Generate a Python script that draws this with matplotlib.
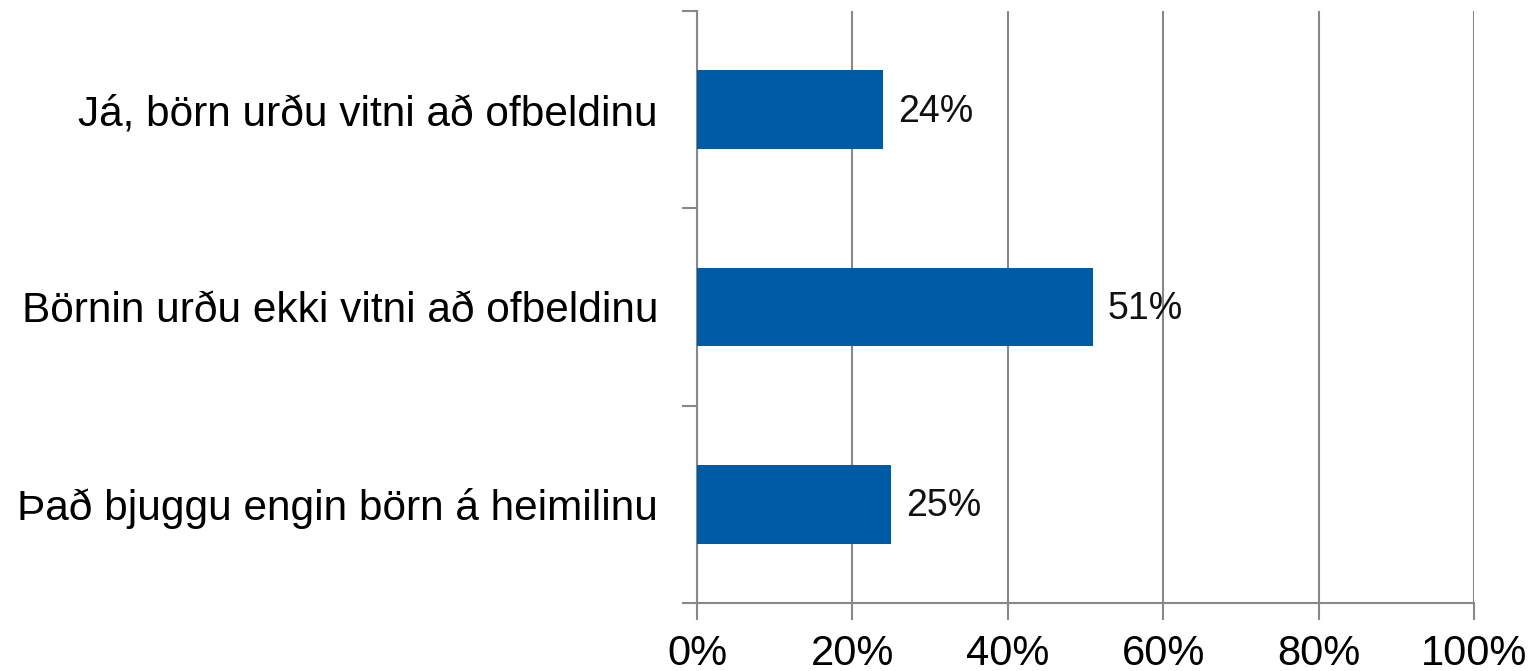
import numpy as np
from matplotlib import pyplot as plt
from matplotlib.ticker import FixedLocator

categories = ["Það bjuggu engin börn á heimilinu",
              "Börnin urðu ekki vitni að ofbeldinu",
              "Já, börn urðu vitni að ofbeldinu"]
values = [25, 51, 24]
x_ticks = [0, 20, 40, 60, 80, 100]

plt.rcParams['font.family'] = ['Liberation Sans', 'DejaVu Sans']

fig = plt.figure(figsize=(15.38, 6.71), dpi=100)
ax = fig.add_axes([697 / 1538, 1 - 603 / 671, 777 / 1538, 592 / 671])

y = np.arange(len(categories))
ax.barh(y, values, height=0.4, color='#005BA5', zorder=3)
for yi, v in zip(y, values):
    ax.text(v + 1.9, yi - 0.01, f"{v}%", va='center', ha='left', fontsize=27, color='#111111')

ax.set_xlim(0, 100)
ax.set_ylim(-0.5, 2.5)
ax.set_xticks(x_ticks)
ax.set_xticklabels([f"{t}%" for t in x_ticks], fontsize=30)
ax.set_yticks(y)
ax.set_yticklabels(categories, fontsize=30.5)
ax.yaxis.set_minor_locator(FixedLocator([-0.5, 0.5, 1.5, 2.5]))
ax.tick_params(axis='y', which='major', length=0, pad=28)
ax.tick_params(axis='y', which='minor', length=11, width=1.5, color='#888888')
ax.tick_params(axis='x', length=12, width=1.5, color='#888888', pad=10)
ax.grid(axis='x', color='#888888', linewidth=1.5, zorder=0)
for s in ['top', 'right']:
    ax.spines[s].set_visible(False)
for s in ['left', 'bottom']:
    ax.spines[s].set_color('#888888')
    ax.spines[s].set_linewidth(1.5)

fig.savefig('out.png', dpi=100)
